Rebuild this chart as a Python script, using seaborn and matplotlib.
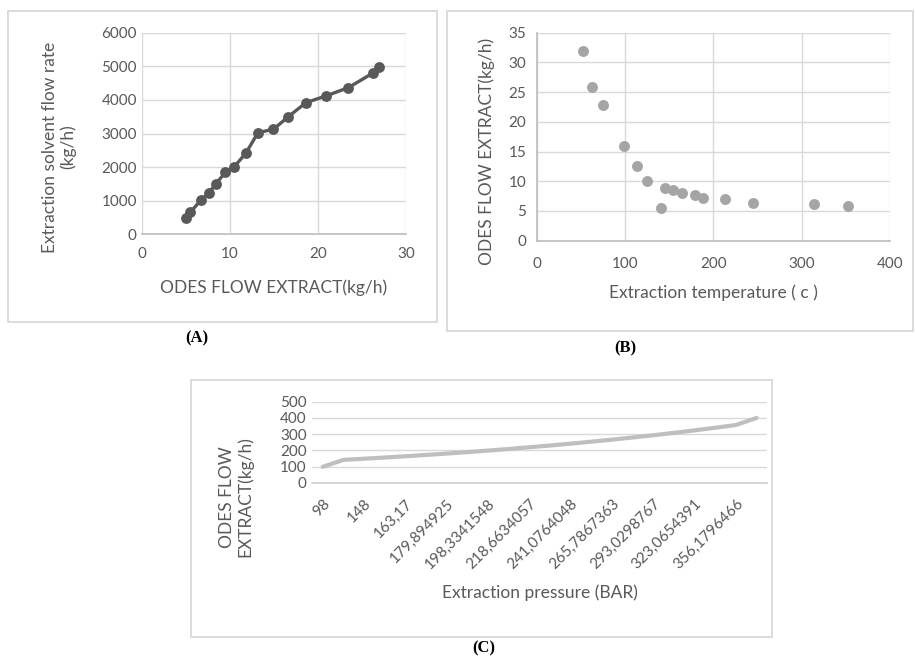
import matplotlib
matplotlib.use("Agg")
import matplotlib.pyplot as plt
from matplotlib.patches import Rectangle
import seaborn as sns

# (A) extraction solvent flow rate vs ODES flow extract
odes_flow_a = [4.99, 5.52, 6.70, 7.64, 8.44, 9.50, 10.52, 11.84, 13.2, 14.95,
               16.65, 18.65, 20.9, 23.46, 26.2, 26.98]
solvent_flow = [496, 655, 1012, 1240, 1508, 1845, 2014, 2421, 3026, 3125,
                3502, 3919, 4117, 4365, 4792, 4970]

# (B) ODES flow extract vs extraction temperature
temperature = [52.8, 62.6, 75.5, 98.5, 113.6, 125.3, 140.8, 145.7, 154.3, 164.9,
               179.6, 188.7, 213.6, 245.3, 313.6, 352.5]
odes_flow_b = [32.0, 25.9, 22.9, 16.0, 12.5, 10.0, 5.5, 8.9, 8.5, 8.0,
               7.7, 7.2, 7.0, 6.4, 6.2, 5.9]

# (C) ODES flow extract vs extraction pressure (category axis, every 2nd label shown)
pressure_labels = ['98', '148', '163,17', '179,894925', '198,3341548', '218,6634057',
                   '241,0764048', '265,7867363', '293,0298767', '323,0654391', '356,1796466']
odes_flow_c = [98, 141, 148, 155.4, 163.2, 171.3, 179.9, 188.9, 198.3, 208.2, 218.7,
               229.6, 241.1, 253.1, 265.8, 279.1, 293.0, 307.7, 323.1, 339.2, 356.2, 400]

sns.set_theme(style="white")
plt.rcParams['font.family'] = ['Lato', 'DejaVu Sans']

TXT = '#595959'
GRID = '#D9D9D9'
W, H = 915, 663

fig = plt.figure(figsize=(W / 100, H / 100), dpi=100)
fig.patch.set_facecolor('white')


def px_axes(l, t, r, b):
    return fig.add_axes([l / W, 1 - b / H, (r - l) / W, (b - t) / H])


def px_box(l, t, r, b):
    fig.patches.append(Rectangle((l / W, 1 - b / H), (r - l) / W, (b - t) / H,
                                 transform=fig.transFigure, fill=False,
                                 edgecolor=GRID, lw=1.3))


def style(ax):
    for s in ax.spines.values():
        s.set_visible(False)
    ax.tick_params(labelsize=11, colors=TXT, length=0)
    ax.set_facecolor('white')


px_box(8, 11, 437, 322)
px_box(447, 11, 913, 331)
px_box(191, 380, 772, 637)

# ---- (A)
ax1 = px_axes(141.7, 32.7, 406, 234.3)
sns.lineplot(x=odes_flow_a, y=solvent_flow, sort=False, marker='o', color='#595959',
             lw=2.4, markersize=7.8, markeredgewidth=0, errorbar=None, ax=ax1)
ax1.set_xlim(0, 30)
ax1.set_ylim(0, 6000)
ax1.set_xticks([0, 10, 20, 30])
ax1.set_yticks(range(0, 6001, 1000))
ax1.grid(True, color=GRID, lw=1)
style(ax1)
ax1.spines['bottom'].set_visible(True)
ax1.spines['bottom'].set_color('#BFBFBF')
ax1.tick_params(axis='x', pad=9)
ax1.set_xlabel('ODES FLOW EXTRACT(kg/h)', fontsize=12.5, color=TXT, va='center')
ax1.set_ylabel('Extraction solvent flow rate\n(kg/h)', fontsize=12.5, color=TXT,
               va='center', linespacing=1.1)
ax1.xaxis.set_label_coords(0.5, -0.266)
ax1.yaxis.set_label_coords(-0.313, 0.433)

# ---- (B)
ax2 = px_axes(536.7, 32.7, 890, 240.7)
sns.scatterplot(x=temperature, y=odes_flow_b, color='#A5A5A5', s=62, linewidth=0, ax=ax2)
ax2.set_xlim(0, 400)
ax2.set_ylim(0, 35)
ax2.set_xticks(range(0, 401, 100))
ax2.set_yticks(range(0, 36, 5))
ax2.grid(True, color=GRID, lw=1)
style(ax2)
for s in ('left', 'bottom'):
    ax2.spines[s].set_visible(True)
    ax2.spines[s].set_color('#BFBFBF')
ax2.tick_params(length=4, color='#BFBFBF', width=1)
ax2.tick_params(axis='x', pad=8)
ax2.set_xlabel('Extraction temperature ( c )', fontsize=12.5, color=TXT, va='center')
ax2.set_ylabel('ODES FLOW EXTRACT(kg/h)', fontsize=12.5, color=TXT, va='center')
ax2.xaxis.set_label_coords(0.5, -0.251)
ax2.yaxis.set_label_coords(-0.1415, 0.431)

# ---- (C)
ax3 = px_axes(312.4, 401.7, 767, 482.7)
idx = list(range(len(odes_flow_c)))
sns.lineplot(x=idx, y=odes_flow_c, color='#BFBFBF', lw=3, errorbar=None, ax=ax3)
ax3.set_xlim(-0.5, len(idx) - 0.5)
ax3.set_ylim(0, 500)
ax3.set_yticks(range(0, 501, 100))
ax3.set_xticks(idx[::2])
ax3.set_xticklabels(pressure_labels, rotation=45, ha='right', rotation_mode='anchor')
ax3.grid(True, axis='y', color=GRID, lw=1)
style(ax3)
ax3.spines['bottom'].set_visible(True)
ax3.spines['bottom'].set_color('#D0D0D0')
ax3.tick_params(axis='x', pad=10)
ax3.tick_params(axis='y', pad=4, labelsize=11)
ax3.set_xlabel('Extraction pressure (BAR)', fontsize=12.5, color=TXT, va='center')
ax3.set_ylabel('ODES FLOW\nEXTRACT(kg/h)', fontsize=12.5, color=TXT, va='center',
               linespacing=1.1)
ax3.xaxis.set_label_coords(0.5, -1.36)
ax3.yaxis.set_label_coords(-0.168, -0.177)

# panel letters
for lab, x, y in (('(A)', 197, 338), ('(B)', 625, 348), ('(C)', 484, 648)):
    fig.text(x / W, 1 - y / H, lab, ha='center', va='center', fontsize=12,
             fontweight='bold', family='Liberation Serif', color='black')

fig.savefig('out.png', dpi=100)
